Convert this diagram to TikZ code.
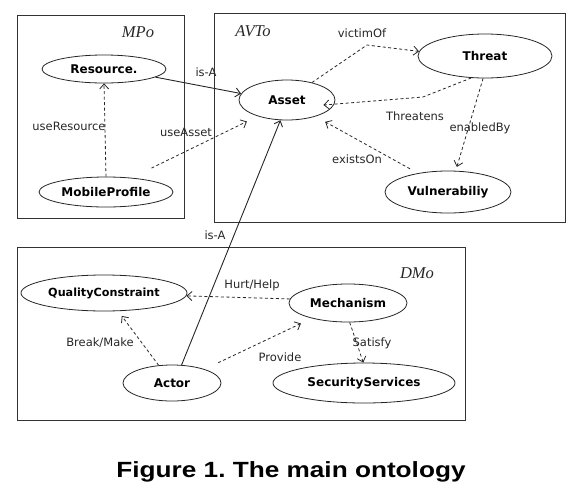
\documentclass[tikz,border=0pt]{standalone}
\usepackage{fontspec}
\setmainfont{DejaVu Sans}
\newfontfamily\serifit{Liberation Serif}
\newfontfamily\capfont{Liberation Sans}
\usetikzlibrary{shapes.geometric,arrows.meta}
\frenchspacing
\begin{document}
\begin{tikzpicture}[x=1pt,y=-1pt,
  concept/.style={ellipse, draw=black!85, line width=0.8pt, inner sep=0pt, font=\fontsize{12}{14}\selectfont\bfseries},
  frame/.style={draw=black!80, line width=1pt},
  rel/.style={draw=black!85, line width=0.8pt, dash pattern=on 3pt off 2.5pt, -{Straight Barb[length=5pt,width=9pt]}},
  isa/.style={draw=black!85, line width=0.9pt, -{Straight Barb[length=5pt,width=9pt]}},
  lbl/.style={font=\fontsize{11.5}{13}\selectfont, inner sep=1pt, text=black!85},
  onto/.style={font=\serifit\itshape\fontsize{16.5}{18}\selectfont, inner sep=0pt, text=black!85},
]
\useasboundingbox (0,0) rectangle (578,493);
% frames
\draw[frame] (17,15) rectangle (184,218);
\draw[frame] (214,13) rectangle (565,222);
\draw[frame] (17,247) rectangle (465,420);
\node[onto] (mpo) at (138,32) {MPo};
\node[onto] (avto) at (253,31) {AVTo};
\node[onto] (dmo) at (417,273) {DMo};
% concepts
\node[concept, minimum width=124, minimum height=28] (res) at (104,69) {Resource.};
\node[concept, minimum width=134, minimum height=30] (mp) at (106,192) {MobileProfile};
\node[concept, minimum width=96, minimum height=40] (asset) at (287,100) {Asset};
\node[concept, minimum width=134, minimum height=44] (thr) at (485,56) {Threat};
\node[concept, minimum width=126, minimum height=42] (vul) at (448,192) {Vulnerabiliy};
\node[concept, minimum width=166, minimum height=36, font=\fontsize{11.2}{13}\selectfont\bfseries] (qc) at (104,293) {QualityConstraint};
\node[concept, minimum width=118, minimum height=38] (mech) at (348,303) {Mechanism};
\node[concept, minimum width=98, minimum height=36] (actor) at (172,383) {Actor};
\node[concept, minimum width=182, minimum height=40] (sec) at (364,383) {SecurityServices};
% connectors
\draw[isa] (res.-9) -- (asset.172);
\node[lbl] (l1) at (206,72) {is-A};
\draw[rel] (mp.north) -- (res.south);
\node[lbl] (l2) at (69,126) {useResource};
\draw[rel, shorten <=22pt, shorten >=12pt] (mp.29) -- (asset.209);
\node[lbl] (l3) at (186,132) {useAsset};
\coordinate (v1) at (367,45);
\draw[rel] (asset.35) -- (v1) -- (thr.176);
\node[lbl] (l4) at (362,33) {victimOf};
\coordinate (t1) at (423,97);
\draw[rel, shorten >=-11pt] (thr.238) -- (t1) -- (asset.-5);
\node[lbl] (l5) at (415,116) {Threatens};
\draw[rel, shorten >=4pt] (thr.265) -- (vul.70);
\node[lbl] (l6) at (480,128) {enabledBy};
\draw[rel, shorten <=9pt, shorten >=11pt] (vul.148) -- (asset.-30);
\node[lbl] (l7) at (357,159) {existsOn};
\draw[isa] (actor.62) -- (asset.252);
\node[lbl] (l8) at (215,235) {is-A};
\draw[rel] (mech.176) -- (qc.-2);
\node[lbl] (l9) at (252,285) {Hurt/Help};
\draw[rel, shorten >=6pt] (actor.127) -- (qc.-52);
\node[lbl] (l10) at (100,343) {Break/Make};
\draw[rel, shorten <=15pt, shorten >=12pt] (actor.23) -- (mech.203);
\node[lbl] (l11) at (280,357) {Provide};
\draw[rel] (mech.275) -- (sec.92);
\node[lbl] (l12) at (372,343) {Satisfy};
% caption
\node[font=\capfont\bfseries\fontsize{22}{26}\selectfont, anchor=base, inner sep=0pt] (cap) at (291,477) {\scalebox{1.19}[1]{Figure 1. The main ontology}};
\end{tikzpicture}
\end{document}
